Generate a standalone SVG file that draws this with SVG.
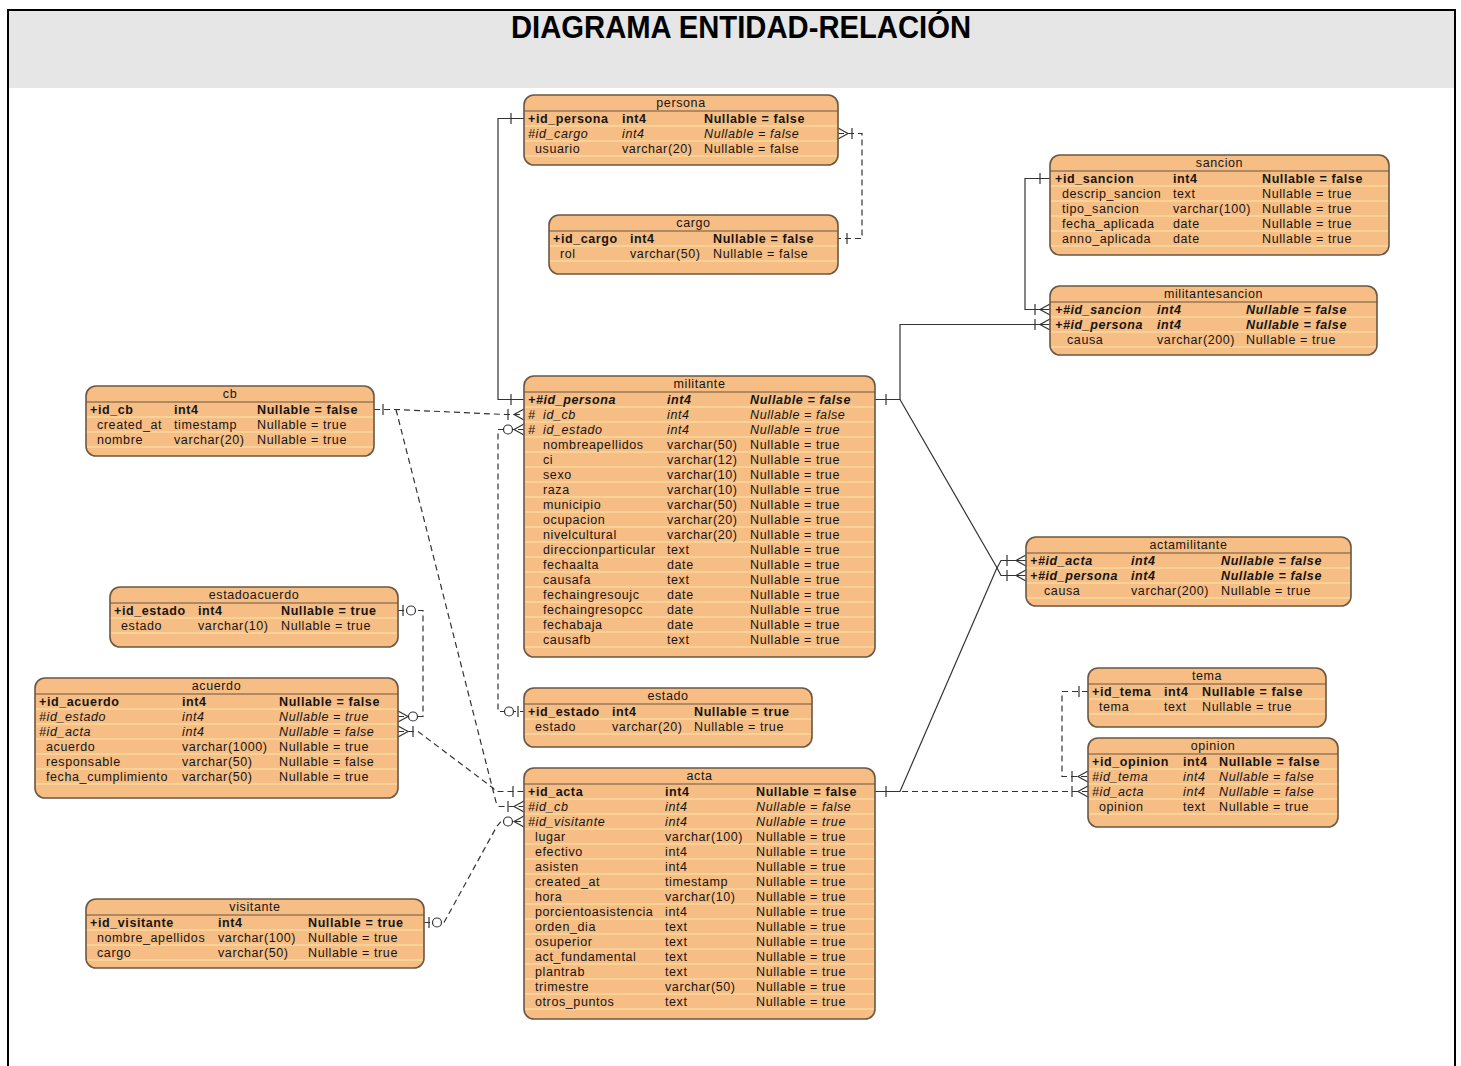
<svg xmlns="http://www.w3.org/2000/svg" xmlns:xlink="http://www.w3.org/1999/xlink" width="1461" height="1066" viewBox="0 0 1461 1066">
  <style>
    text { font-family: "Liberation Sans", Arial, sans-serif; font-size: 12.5px; letter-spacing: 0.6px; fill: #151515; }
    .title { font-size: 31px; font-weight: bold; letter-spacing: 0; fill: #000; }
    .hdr { text-anchor: middle; }
    .b { font-weight: bold; }
    .i { font-style: italic; }
    .bi { font-weight: bold; font-style: italic; }
    .box { fill: #f6bd84; stroke: #6b5742; stroke-width: 1.6; }
    .hline { stroke: #6b5742; stroke-width: 1.2; fill: none; }
    .sep { stroke: #fbe7a9; stroke-width: 1; fill: none; }
    .ln { fill: none; stroke: #333; stroke-width: 1.2; }
    .dash { stroke-dasharray: 6 4; }
    .mk { fill: none; stroke: #333; stroke-width: 1.2; }
    .ring { fill: #fff; stroke: #333; stroke-width: 1.2; }
  </style>
  <defs>
    <!-- crow's foot, entity to the right of the attach point -->
    <path id="crowL" class="mk" d="M0,-5.5 L-10,0 L0,5.5"/>
    <!-- crow's foot, entity to the left of the attach point -->
    <path id="crowR" class="mk" d="M0,-5.5 L10,0 L0,5.5"/>
    <!-- "one" bar -->
    <path id="bar" class="mk" d="M0,-5.5 V5.5"/>
    <!-- "zero" ring -->
    <circle id="ring" class="ring" r="4.5"/>
  </defs>

  <!-- page frame and heading band -->
  <rect x="0" y="0" width="1461" height="1066" fill="#fff"/>
  <rect x="9" y="10" width="1446" height="78" fill="#e6e6e6"/>
  <path d="M8,1066 V10 H1455 V1066" fill="none" stroke="#000" stroke-width="2"/>
  <text class="title" x="741" y="38" text-anchor="middle" textLength="460" lengthAdjust="spacingAndGlyphs">DIAGRAMA ENTIDAD-RELACIÓN</text>

  <!-- relationships -->
  <g id="connectors">
    <!-- persona - militante -->
    <path class="ln" d="M524,118.5 H498 V399.5 H524"/>
    <use href="#bar" x="511" y="118.5"/>
    <use href="#bar" x="511" y="399.5"/>
    <!-- persona - cargo -->
    <path class="ln dash" d="M838,133.5 H862 V238.5 H838"/>
    <use href="#crowR" x="838" y="133.5"/>
    <use href="#bar" x="852" y="133.5"/>
    <use href="#bar" x="847" y="238.5"/>
    <!-- sancion - militantesancion -->
    <path class="ln" d="M1050,178.5 H1025 V309.5 H1050"/>
    <use href="#bar" x="1040" y="178.5"/>
    <use href="#bar" x="1035" y="309.5"/>
    <use href="#crowL" x="1050" y="309.5"/>
    <!-- militante - militantesancion -->
    <path class="ln" d="M875,399.5 H900 V324.5 H1050"/>
    <use href="#bar" x="886" y="399.5"/>
    <use href="#bar" x="1035" y="324.5"/>
    <use href="#crowL" x="1050" y="324.5"/>
    <!-- militante - actamilitante -->
    <path class="ln" d="M900,399.5 L996,566 L1001,575.5 H1026"/>
    <use href="#bar" x="1007" y="575.5"/>
    <use href="#crowL" x="1026" y="575.5"/>
    <!-- acta - actamilitante -->
    <path class="ln" d="M875,791.5 H900 L996,570 L1001,560.5 H1026"/>
    <use href="#bar" x="886" y="791.5"/>
    <use href="#bar" x="1007" y="560.5"/>
    <use href="#crowL" x="1026" y="560.5"/>
    <!-- acta - opinion -->
    <path class="ln dash" d="M902,791.5 H1088"/>
    <use href="#bar" x="1072" y="791.5"/>
    <use href="#crowL" x="1088" y="791.5"/>
    <!-- tema - opinion -->
    <path class="ln dash" d="M1088,691.5 H1062 V776.5 H1088"/>
    <use href="#bar" x="1079" y="691.5"/>
    <use href="#bar" x="1072" y="776.5"/>
    <use href="#crowL" x="1088" y="776.5"/>
    <!-- cb - militante -->
    <path class="ln dash" d="M374,409.5 H396 L505,414.5 H524"/>
    <use href="#bar" x="383" y="409.5"/>
    <use href="#bar" x="508" y="414.5"/>
    <use href="#crowL" x="524" y="414.5"/>
    <!-- cb - acta -->
    <path class="ln dash" d="M396,409.5 L496,802 L499,806.5 H524"/>
    <use href="#bar" x="508" y="806.5"/>
    <use href="#crowL" x="524" y="806.5"/>
    <!-- militante - estado -->
    <path class="ln dash" d="M524,429.5 H498 V711.5 H524"/>
    <use href="#crowL" x="524" y="429.5"/>
    <use href="#ring" x="508" y="429.5"/>
    <use href="#ring" x="509" y="711.5"/>
    <use href="#bar" x="518" y="711.5"/>
    <!-- estadoacuerdo - acuerdo -->
    <path class="ln dash" d="M398,610.5 H423 V716.5 H398"/>
    <use href="#bar" x="403" y="610.5"/>
    <use href="#ring" x="411" y="610.5"/>
    <use href="#crowR" x="398" y="716.5"/>
    <use href="#ring" x="413" y="716.5"/>
    <!-- acuerdo - acta -->
    <path class="ln dash" d="M398,731.5 H418 L493,788 L496,791.5 H524"/>
    <use href="#crowR" x="398" y="731.5"/>
    <use href="#bar" x="413" y="731.5"/>
    <use href="#bar" x="513" y="791.5"/>
    <!-- visitante - acta -->
    <path class="ln dash" d="M424,922.5 H444 L497,826 L501,821.5 H524"/>
    <use href="#bar" x="429" y="922.5"/>
    <use href="#ring" x="437" y="922.5"/>
    <use href="#ring" x="508" y="821.5"/>
    <use href="#crowL" x="524" y="821.5"/>
  </g>

  <g id="persona">
    <rect class="box" x="524" y="95" width="314" height="70" rx="10"/>
    <path class="hline" d="M524,111 H838"/>
    <path class="sep" d="M525,126 H837 M525,141 H837 M525,156 H837"/>
    <text class="hdr" x="681" y="107">persona</text>
    <text class="b" y="122.5"><tspan x="528">+id_persona</tspan><tspan x="622">int4</tspan><tspan x="704">Nullable = false</tspan></text>
    <text class="i" y="137.5"><tspan x="528">#id_cargo</tspan><tspan x="622">int4</tspan><tspan x="704">Nullable = false</tspan></text>
    <text y="152.5"><tspan x="535">usuario</tspan><tspan x="622">varchar(20)</tspan><tspan x="704">Nullable = false</tspan></text>
  </g>

  <g id="cargo">
    <rect class="box" x="549" y="215" width="289" height="59" rx="10"/>
    <path class="hline" d="M549,231 H838"/>
    <path class="sep" d="M550,246 H837 M550,261 H837"/>
    <text class="hdr" x="693.5" y="227">cargo</text>
    <text class="b" y="242.5"><tspan x="553">+id_cargo</tspan><tspan x="630">int4</tspan><tspan x="713">Nullable = false</tspan></text>
    <text y="257.5"><tspan x="560">rol</tspan><tspan x="630">varchar(50)</tspan><tspan x="713">Nullable = false</tspan></text>
  </g>

  <g id="sancion">
    <rect class="box" x="1050" y="155" width="339" height="100" rx="10"/>
    <path class="hline" d="M1050,171 H1389"/>
    <path class="sep" d="M1051,186 H1388 M1051,201 H1388 M1051,216 H1388 M1051,231 H1388 M1051,246 H1388"/>
    <text class="hdr" x="1219.5" y="167">sancion</text>
    <text class="b" y="182.5"><tspan x="1055">+id_sancion</tspan><tspan x="1173">int4</tspan><tspan x="1262">Nullable = false</tspan></text>
    <text y="197.5"><tspan x="1062">descrip_sancion</tspan><tspan x="1173">text</tspan><tspan x="1262">Nullable = true</tspan></text>
    <text y="212.5"><tspan x="1062">tipo_sancion</tspan><tspan x="1173">varchar(100)</tspan><tspan x="1262">Nullable = true</tspan></text>
    <text y="227.5"><tspan x="1062">fecha_aplicada</tspan><tspan x="1173">date</tspan><tspan x="1262">Nullable = true</tspan></text>
    <text y="242.5"><tspan x="1062">anno_aplicada</tspan><tspan x="1173">date</tspan><tspan x="1262">Nullable = true</tspan></text>
  </g>

  <g id="militantesancion">
    <rect class="box" x="1050" y="286" width="327" height="69" rx="10"/>
    <path class="hline" d="M1050,302 H1377"/>
    <path class="sep" d="M1051,317 H1376 M1051,332 H1376 M1051,347 H1376"/>
    <text class="hdr" x="1213.5" y="298">militantesancion</text>
    <text class="bi" y="313.5"><tspan x="1055">+#id_sancion</tspan><tspan x="1157">int4</tspan><tspan x="1246">Nullable = false</tspan></text>
    <text class="bi" y="328.5"><tspan x="1055">+#id_persona</tspan><tspan x="1157">int4</tspan><tspan x="1246">Nullable = false</tspan></text>
    <text y="343.5"><tspan x="1067">causa</tspan><tspan x="1157">varchar(200)</tspan><tspan x="1246">Nullable = true</tspan></text>
  </g>

  <g id="cb">
    <rect class="box" x="86" y="386" width="288" height="70" rx="10"/>
    <path class="hline" d="M86,402 H374"/>
    <path class="sep" d="M87,417 H373 M87,432 H373 M87,447 H373"/>
    <text class="hdr" x="230" y="398">cb</text>
    <text class="b" y="413.5"><tspan x="90">+id_cb</tspan><tspan x="174">int4</tspan><tspan x="257">Nullable = false</tspan></text>
    <text y="428.5"><tspan x="97">created_at</tspan><tspan x="174">timestamp</tspan><tspan x="257">Nullable = true</tspan></text>
    <text y="443.5"><tspan x="97">nombre</tspan><tspan x="174">varchar(20)</tspan><tspan x="257">Nullable = true</tspan></text>
  </g>

  <g id="militante">
    <rect class="box" x="524" y="376" width="351" height="281" rx="10"/>
    <path class="hline" d="M524,392 H875"/>
    <path class="sep" d="M525,407 H874 M525,422 H874 M525,437 H874 M525,452 H874 M525,467 H874 M525,482 H874 M525,497 H874 M525,512 H874 M525,527 H874 M525,542 H874 M525,557 H874 M525,572 H874 M525,587 H874 M525,602 H874 M525,617 H874 M525,632 H874 M525,647 H874"/>
    <text class="hdr" x="699.5" y="388">militante</text>
    <text class="bi" y="403.5"><tspan x="528">+#id_persona</tspan><tspan x="667">int4</tspan><tspan x="750">Nullable = false</tspan></text>
    <text class="i" y="418.5"><tspan x="528">#</tspan><tspan x="543">id_cb</tspan><tspan x="667">int4</tspan><tspan x="750">Nullable = false</tspan></text>
    <text class="i" y="433.5"><tspan x="528">#</tspan><tspan x="543">id_estado</tspan><tspan x="667">int4</tspan><tspan x="750">Nullable = true</tspan></text>
    <text y="448.5"><tspan x="543">nombreapellidos</tspan><tspan x="667">varchar(50)</tspan><tspan x="750">Nullable = true</tspan></text>
    <text y="463.5"><tspan x="543">ci</tspan><tspan x="667">varchar(12)</tspan><tspan x="750">Nullable = true</tspan></text>
    <text y="478.5"><tspan x="543">sexo</tspan><tspan x="667">varchar(10)</tspan><tspan x="750">Nullable = true</tspan></text>
    <text y="493.5"><tspan x="543">raza</tspan><tspan x="667">varchar(10)</tspan><tspan x="750">Nullable = true</tspan></text>
    <text y="508.5"><tspan x="543">municipio</tspan><tspan x="667">varchar(50)</tspan><tspan x="750">Nullable = true</tspan></text>
    <text y="523.5"><tspan x="543">ocupacion</tspan><tspan x="667">varchar(20)</tspan><tspan x="750">Nullable = true</tspan></text>
    <text y="538.5"><tspan x="543">nivelcultural</tspan><tspan x="667">varchar(20)</tspan><tspan x="750">Nullable = true</tspan></text>
    <text y="553.5"><tspan x="543">direccionparticular</tspan><tspan x="667">text</tspan><tspan x="750">Nullable = true</tspan></text>
    <text y="568.5"><tspan x="543">fechaalta</tspan><tspan x="667">date</tspan><tspan x="750">Nullable = true</tspan></text>
    <text y="583.5"><tspan x="543">causafa</tspan><tspan x="667">text</tspan><tspan x="750">Nullable = true</tspan></text>
    <text y="598.5"><tspan x="543">fechaingresoujc</tspan><tspan x="667">date</tspan><tspan x="750">Nullable = true</tspan></text>
    <text y="613.5"><tspan x="543">fechaingresopcc</tspan><tspan x="667">date</tspan><tspan x="750">Nullable = true</tspan></text>
    <text y="628.5"><tspan x="543">fechabaja</tspan><tspan x="667">date</tspan><tspan x="750">Nullable = true</tspan></text>
    <text y="643.5"><tspan x="543">causafb</tspan><tspan x="667">text</tspan><tspan x="750">Nullable = true</tspan></text>
  </g>

  <g id="actamilitante">
    <rect class="box" x="1026" y="537" width="325" height="69" rx="10"/>
    <path class="hline" d="M1026,553 H1351"/>
    <path class="sep" d="M1027,568 H1350 M1027,583 H1350 M1027,598 H1350"/>
    <text class="hdr" x="1188.5" y="549">actamilitante</text>
    <text class="bi" y="564.5"><tspan x="1030">+#id_acta</tspan><tspan x="1131">int4</tspan><tspan x="1221">Nullable = false</tspan></text>
    <text class="bi" y="579.5"><tspan x="1030">+#id_persona</tspan><tspan x="1131">int4</tspan><tspan x="1221">Nullable = false</tspan></text>
    <text y="594.5"><tspan x="1044">causa</tspan><tspan x="1131">varchar(200)</tspan><tspan x="1221">Nullable = true</tspan></text>
  </g>

  <g id="estadoacuerdo">
    <rect class="box" x="110" y="587" width="288" height="60" rx="10"/>
    <path class="hline" d="M110,603 H398"/>
    <path class="sep" d="M111,618 H397 M111,633 H397"/>
    <text class="hdr" x="254" y="599">estadoacuerdo</text>
    <text class="b" y="614.5"><tspan x="114">+id_estado</tspan><tspan x="198">int4</tspan><tspan x="281">Nullable = true</tspan></text>
    <text y="629.5"><tspan x="121">estado</tspan><tspan x="198">varchar(10)</tspan><tspan x="281">Nullable = true</tspan></text>
  </g>

  <g id="acuerdo">
    <rect class="box" x="35" y="678" width="363" height="120" rx="10"/>
    <path class="hline" d="M35,694 H398"/>
    <path class="sep" d="M36,709 H397 M36,724 H397 M36,739 H397 M36,754 H397 M36,769 H397 M36,784 H397"/>
    <text class="hdr" x="216.5" y="690">acuerdo</text>
    <text class="b" y="705.5"><tspan x="39">+id_acuerdo</tspan><tspan x="182">int4</tspan><tspan x="279">Nullable = false</tspan></text>
    <text class="i" y="720.5"><tspan x="39">#id_estado</tspan><tspan x="182">int4</tspan><tspan x="279">Nullable = true</tspan></text>
    <text class="i" y="735.5"><tspan x="39">#id_acta</tspan><tspan x="182">int4</tspan><tspan x="279">Nullable = false</tspan></text>
    <text y="750.5"><tspan x="46">acuerdo</tspan><tspan x="182">varchar(1000)</tspan><tspan x="279">Nullable = true</tspan></text>
    <text y="765.5"><tspan x="46">responsable</tspan><tspan x="182">varchar(50)</tspan><tspan x="279">Nullable = false</tspan></text>
    <text y="780.5"><tspan x="46">fecha_cumplimiento</tspan><tspan x="182">varchar(50)</tspan><tspan x="279">Nullable = true</tspan></text>
  </g>

  <g id="estado">
    <rect class="box" x="524" y="688" width="288" height="59" rx="10"/>
    <path class="hline" d="M524,704 H812"/>
    <path class="sep" d="M525,719 H811 M525,734 H811"/>
    <text class="hdr" x="668" y="700">estado</text>
    <text class="b" y="715.5"><tspan x="528">+id_estado</tspan><tspan x="612">int4</tspan><tspan x="694">Nullable = true</tspan></text>
    <text y="730.5"><tspan x="535">estado</tspan><tspan x="612">varchar(20)</tspan><tspan x="694">Nullable = true</tspan></text>
  </g>

  <g id="tema">
    <rect class="box" x="1088" y="668" width="238" height="59" rx="10"/>
    <path class="hline" d="M1088,684 H1326"/>
    <path class="sep" d="M1089,699 H1325 M1089,714 H1325"/>
    <text class="hdr" x="1207" y="680">tema</text>
    <text class="b" y="695.5"><tspan x="1092">+id_tema</tspan><tspan x="1164">int4</tspan><tspan x="1202">Nullable = false</tspan></text>
    <text y="710.5"><tspan x="1099">tema</tspan><tspan x="1164">text</tspan><tspan x="1202">Nullable = true</tspan></text>
  </g>

  <g id="opinion">
    <rect class="box" x="1088" y="738" width="250" height="89" rx="10"/>
    <path class="hline" d="M1088,754 H1338"/>
    <path class="sep" d="M1089,769 H1337 M1089,784 H1337 M1089,799 H1337 M1089,814 H1337"/>
    <text class="hdr" x="1213" y="750">opinion</text>
    <text class="b" y="765.5"><tspan x="1092">+id_opinion</tspan><tspan x="1183">int4</tspan><tspan x="1219">Nullable = false</tspan></text>
    <text class="i" y="780.5"><tspan x="1092">#id_tema</tspan><tspan x="1183">int4</tspan><tspan x="1219">Nullable = false</tspan></text>
    <text class="i" y="795.5"><tspan x="1092">#id_acta</tspan><tspan x="1183">int4</tspan><tspan x="1219">Nullable = false</tspan></text>
    <text y="810.5"><tspan x="1099">opinion</tspan><tspan x="1183">text</tspan><tspan x="1219">Nullable = true</tspan></text>
  </g>

  <g id="acta">
    <rect class="box" x="524" y="768" width="351" height="251" rx="10"/>
    <path class="hline" d="M524,784 H875"/>
    <path class="sep" d="M525,799 H874 M525,814 H874 M525,829 H874 M525,844 H874 M525,859 H874 M525,874 H874 M525,889 H874 M525,904 H874 M525,919 H874 M525,934 H874 M525,949 H874 M525,964 H874 M525,979 H874 M525,994 H874 M525,1009 H874"/>
    <text class="hdr" x="699.5" y="780">acta</text>
    <text class="b" y="795.5"><tspan x="528">+id_acta</tspan><tspan x="665">int4</tspan><tspan x="756">Nullable = false</tspan></text>
    <text class="i" y="810.5"><tspan x="528">#id_cb</tspan><tspan x="665">int4</tspan><tspan x="756">Nullable = false</tspan></text>
    <text class="i" y="825.5"><tspan x="528">#id_visitante</tspan><tspan x="665">int4</tspan><tspan x="756">Nullable = true</tspan></text>
    <text y="840.5"><tspan x="535">lugar</tspan><tspan x="665">varchar(100)</tspan><tspan x="756">Nullable = true</tspan></text>
    <text y="855.5"><tspan x="535">efectivo</tspan><tspan x="665">int4</tspan><tspan x="756">Nullable = true</tspan></text>
    <text y="870.5"><tspan x="535">asisten</tspan><tspan x="665">int4</tspan><tspan x="756">Nullable = true</tspan></text>
    <text y="885.5"><tspan x="535">created_at</tspan><tspan x="665">timestamp</tspan><tspan x="756">Nullable = true</tspan></text>
    <text y="900.5"><tspan x="535">hora</tspan><tspan x="665">varchar(10)</tspan><tspan x="756">Nullable = true</tspan></text>
    <text y="915.5"><tspan x="535">porcientoasistencia</tspan><tspan x="665">int4</tspan><tspan x="756">Nullable = true</tspan></text>
    <text y="930.5"><tspan x="535">orden_dia</tspan><tspan x="665">text</tspan><tspan x="756">Nullable = true</tspan></text>
    <text y="945.5"><tspan x="535">osuperior</tspan><tspan x="665">text</tspan><tspan x="756">Nullable = true</tspan></text>
    <text y="960.5"><tspan x="535">act_fundamental</tspan><tspan x="665">text</tspan><tspan x="756">Nullable = true</tspan></text>
    <text y="975.5"><tspan x="535">plantrab</tspan><tspan x="665">text</tspan><tspan x="756">Nullable = true</tspan></text>
    <text y="990.5"><tspan x="535">trimestre</tspan><tspan x="665">varchar(50)</tspan><tspan x="756">Nullable = true</tspan></text>
    <text y="1005.5"><tspan x="535">otros_puntos</tspan><tspan x="665">text</tspan><tspan x="756">Nullable = true</tspan></text>
  </g>

  <g id="visitante">
    <rect class="box" x="86" y="899" width="338" height="69" rx="10"/>
    <path class="hline" d="M86,915 H424"/>
    <path class="sep" d="M87,930 H423 M87,945 H423 M87,960 H423"/>
    <text class="hdr" x="255" y="911">visitante</text>
    <text class="b" y="926.5"><tspan x="90">+id_visitante</tspan><tspan x="218">int4</tspan><tspan x="308">Nullable = true</tspan></text>
    <text y="941.5"><tspan x="97">nombre_apellidos</tspan><tspan x="218">varchar(100)</tspan><tspan x="308">Nullable = true</tspan></text>
    <text y="956.5"><tspan x="97">cargo</tspan><tspan x="218">varchar(50)</tspan><tspan x="308">Nullable = true</tspan></text>
  </g>
</svg>
